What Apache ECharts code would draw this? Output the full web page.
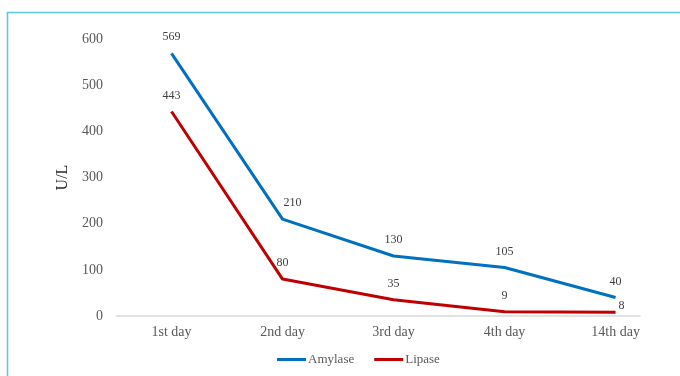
<!DOCTYPE html>
<html>
<head>
<meta charset="utf-8">
<script src="https://cdn.jsdelivr.net/npm/echarts@6/dist/echarts.min.js"></script>
<style>
  html, body { margin: 0; padding: 0; background: #fff; }
  #chart { width: 680px; height: 376px; }
</style>
</head>
<body>
<div id="chart"></div>
<script>
// Serum enzyme levels over the course of admission
const days = ['1st day', '2nd day', '3rd day', '4th day', '14th day'];
const amylase = [569, 210, 130, 105, 40];
const lipase = [443, 80, 35, 9, 8];
const yTicks = [0, 100, 200, 300, 400, 500, 600];

const serif = '"Liberation Serif", "Times New Roman", serif';

// Per-point label tweaks (by index)
const amylaseLabelTweaks = { 1: { offset: [10, 0] } };
const lipaseLabelTweaks = { 4: { position: 'right', distance: 3, offset: [0, -6] } };

function toPoints(values, tweaks) {
  return values.map((v, i) => {
    const item = { value: [i, v] };
    if (tweaks[i]) item.label = tweaks[i];
    return item;
  });
}

const labelStyle = {
  show: true, position: 'top', distance: 10,
  formatter: p => String(p.value[1]),
  fontFamily: serif, fontSize: 12, color: '#404040'
};

const chart = echarts.init(document.getElementById('chart'));
chart.setOption({
  animation: false,
  backgroundColor: '#ffffff',
  graphic: [{
    type: 'rect',
    shape: { x: 7.5, y: 12.5, width: 700, height: 400 },
    style: { fill: 'none', stroke: '#5ec4e6', lineWidth: 1.5 },
    silent: true
  }],
  grid: { left: 116, right: 40, top: 39, bottom: 60 },
  legend: {
    bottom: 5,
    left: 272,
    itemWidth: 29,
    itemHeight: 3,
    itemGap: 20,
    icon: 'rect',
    textStyle: { fontFamily: serif, fontSize: 13, color: '#595959', padding: [0, 0, 0, -3] },
    data: ['Amylase', 'Lipase']
  },
  xAxis: {
    type: 'value',
    min: -0.5,
    max: 4.22,
    axisLine: { show: true, lineStyle: { color: '#d9d9d9', width: 1.5 } },
    axisTick: { show: false },
    splitLine: { show: false },
    axisLabel: {
      customValues: days.map((d, i) => i),
      formatter: v => days[Math.round(v)] || '',
      fontFamily: serif, fontSize: 14, color: '#595959', margin: 9
    }
  },
  yAxis: {
    type: 'value',
    min: yTicks[0],
    max: yTicks[yTicks.length - 1],
    interval: 100,
    name: 'U/L',
    nameLocation: 'middle',
    nameRotate: 90,
    nameGap: 45,
    nameTextStyle: { fontFamily: serif, fontSize: 16, color: '#262626' },
    axisLine: { show: false },
    axisTick: { show: false },
    splitLine: { show: false },
    axisLabel: { fontFamily: serif, fontSize: 14, color: '#595959', margin: 13 }
  },
  series: [
    {
      name: 'Amylase',
      type: 'line',
      data: toPoints(amylase, amylaseLabelTweaks),
      symbol: 'circle',
      symbolSize: 0,
      showSymbol: true,
      color: '#0070c0',
      lineStyle: { width: 3, color: '#0070c0' },
      label: labelStyle
    },
    {
      name: 'Lipase',
      type: 'line',
      data: toPoints(lipase, lipaseLabelTweaks),
      symbol: 'circle',
      symbolSize: 0,
      showSymbol: true,
      color: '#c00000',
      lineStyle: { width: 3, color: '#c00000' },
      label: labelStyle
    }
  ]
});
</script>
</body>
</html>
